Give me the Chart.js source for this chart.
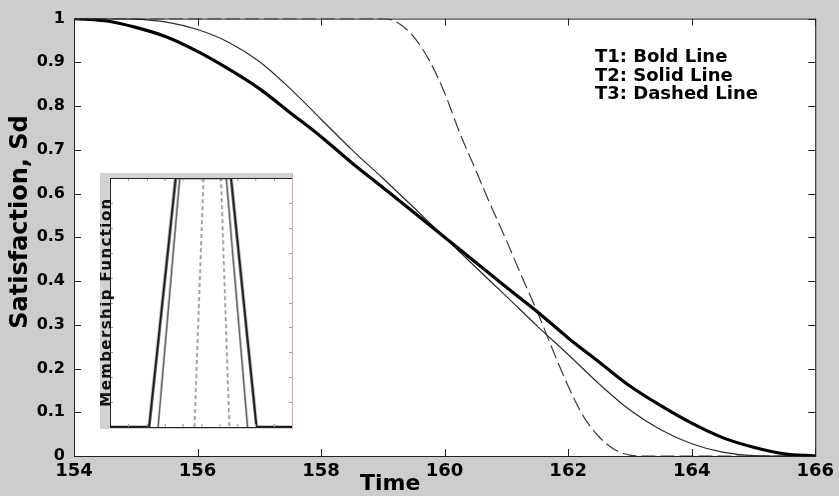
<!DOCTYPE html>
<html lang="en">
<head>
  <meta charset="UTF-8" />
  <title>Satisfaction vs Time</title>
  <script src="https://cdn.jsdelivr.net/npm/chart.js"></script>
  <style>
    body { margin: 0; background: #cdcdcd; }
    .wrap { position: relative; width: 839px; height: 496px; }
    #mainChart { position: absolute; left: 0; top: 0; }
    #insetChart { position: absolute; left: 100px; top: 173px; background: #d2d2d2; border-right: 1px solid #e0a4a4; }
  </style>
</head>
<body>
  <div class="wrap">
    <canvas id="mainChart" width="839" height="496"></canvas>
    <canvas id="insetChart" width="193" height="256"></canvas>
  </div>

  <script>
    // main chart data
    const timeT12 = [154, 154.5, 155, 155.5, 156, 156.5, 157, 157.5, 158, 158.5, 159, 159.5, 160,
                     160.5, 161, 161.5, 162, 162.5, 163, 163.5, 164, 164.5, 165, 165.5, 166];
    const satT1 = [1, 0.995, 0.98, 0.958, 0.925, 0.885, 0.84, 0.785, 0.73, 0.67, 0.614, 0.557, 0.5,
                   0.443, 0.386, 0.33, 0.27, 0.215, 0.16, 0.115, 0.075, 0.042, 0.02, 0.005, 0];
    const satT2 = [1, 1, 0.999, 0.992, 0.975, 0.946, 0.902, 0.84, 0.77, 0.70, 0.635, 0.568, 0.5,
                   0.432, 0.365, 0.297, 0.232, 0.165, 0.105, 0.06, 0.028, 0.009, 0.001, 0, 0];
    const timeT3 = [154, 156, 158, 159, 159.25, 159.5, 159.75, 160, 160.25, 160.5, 160.75, 161, 161.25,
                    161.5, 161.75, 162, 162.25, 162.5, 162.75, 163, 163.25, 164, 166];
    const satT3 = [1, 1, 1, 1, 0.99, 0.958, 0.905, 0.83, 0.737, 0.655, 0.572, 0.493, 0.41,
                   0.33, 0.243, 0.16, 0.09, 0.044, 0.015, 0.002, 0, 0, 0];
    const xTicks = [154, 156, 158, 160, 162, 164, 166];
    const legendLines = ["T1: Bold Line", "T2: Solid Line", "T3: Dashed Line"];

    // inset (membership functions)
    const mfBoldX = [0, 2.15, 3.61, 6.65, 8.05, 10];
    const mfBoldY = [0, 0, 1, 1, 0, 0];
    const mfSolidX = [2.64, 3.83, 6.39, 7.56];
    const mfSolidY = [0, 1, 1, 0];
    const mfDashX = [4.64, 5.14, 6.10, 6.56];
    const mfDashY = [0, 1, 1, 0];

    const FONT = "'DejaVu Sans', sans-serif";
    const pts = (xs, ys) => xs.map((x, i) => ({ x: x, y: ys[i] }));

    // white plot area + frame + inward ticks on all four sides
    function framePlugin(tickLen, tickColor, xStep, yStep) {
      return {
        id: 'frame',
        beforeDatasetsDraw(chart) {
          const a = chart.chartArea, ctx = chart.ctx;
          ctx.save();
          ctx.fillStyle = '#ffffff';
          ctx.fillRect(a.left, a.top, a.right - a.left, a.bottom - a.top);
          ctx.restore();
        },
        afterDraw(chart) {
          const a = chart.chartArea, ctx = chart.ctx;
          const xs = chart.scales.x, ys = chart.scales.y;
          ctx.save();
          ctx.strokeStyle = tickColor;
          ctx.lineWidth = 1;
          ctx.beginPath();
          for (let v = xs.min; v <= xs.max + 1e-9; v += xStep) {
            const px = Math.round(xs.getPixelForValue(v)) + 0.5;
            ctx.moveTo(px, a.bottom); ctx.lineTo(px, a.bottom - tickLen);
            ctx.moveTo(px, a.top); ctx.lineTo(px, a.top + tickLen);
          }
          for (let v = ys.min; v <= ys.max + 1e-9; v += yStep) {
            const py = Math.round(ys.getPixelForValue(v)) + 0.5;
            ctx.moveTo(a.left, py); ctx.lineTo(a.left + tickLen, py);
            ctx.moveTo(a.right, py); ctx.lineTo(a.right - tickLen, py);
          }
          ctx.stroke();
          ctx.strokeStyle = '#222';
          ctx.strokeRect(a.left + 0.5, a.top + 0.5, a.right - a.left, a.bottom - a.top);
          ctx.restore();
        }
      };
    }

    const textPlugin = {
      id: 'texts',
      afterDraw(chart) {
        const ctx = chart.ctx;
        ctx.save();
        ctx.fillStyle = '#000';
        ctx.font = `bold 18px ${FONT}`;
        legendLines.forEach((t, i) => ctx.fillText(t, 595, 62 + i * 18.5));
        ctx.font = `bold 22px ${FONT}`;
        ctx.fillText('Time', 360, 490);
        ctx.font = `bold 24px ${FONT}`;
        ctx.translate(27, 222);
        ctx.rotate(-Math.PI / 2);
        ctx.textAlign = 'center';
        ctx.fillText('Satisfaction, Sd', 0, 0);
        ctx.restore();
      }
    };

    new Chart(document.getElementById('mainChart'), {
      type: 'line',
      data: {
        datasets: [
          { label: 'T1', data: pts(timeT12, satT1), borderColor: '#000', borderWidth: 3.2 },
          { label: 'T2', data: pts(timeT12, satT2), borderColor: '#2a2a2a', borderWidth: 1.2 },
          { label: 'T3', data: pts(timeT3, satT3), borderColor: '#3a3a3a', borderWidth: 1.2, borderDash: [14, 5] }
        ]
      },
      options: {
        responsive: false,
        animation: false,
        events: [],
        elements: { point: { radius: 0 }, line: { cubicInterpolationMode: 'monotone', fill: false } },
        layout: { padding: { left: 0, top: 18, right: 17, bottom: 0 } },
        plugins: { legend: { display: false }, tooltip: { enabled: false } },
        scales: {
          x: {
            type: 'linear', min: 154, max: 166,
            afterFit: s => { s.height = 40; },
            afterBuildTicks: s => { s.ticks = xTicks.map(v => ({ value: v })); },
            grid: { display: false, drawTicks: false },
            border: { display: false },
            ticks: { color: '#000', padding: 5, maxRotation: 0, font: { family: FONT, size: 18, weight: 'bold' } }
          },
          y: {
            min: 0, max: 1,
            afterFit: s => { s.width = 74; },
            grid: { display: false, drawTicks: false },
            border: { display: false },
            ticks: {
              stepSize: 0.1, color: '#000', padding: 9,
              font: { family: FONT, size: 16, weight: 'bold' },
              callback: v => String(Math.round(v * 10) / 10)
            }
          }
        }
      },
      plugins: [framePlugin(7, '#222', 2, 0.1), textPlugin]
    });

    const insetLabel = {
      id: 'insetLabel',
      afterDraw(chart) {
        const ctx = chart.ctx;
        ctx.save();
        ctx.fillStyle = '#111';
        ctx.font = `bold 15px ${FONT}`;
        ctx.letterSpacing = '1.4px';
        ctx.translate(11, 129);
        ctx.rotate(-Math.PI / 2);
        ctx.textAlign = 'center';
        ctx.fillText('Membership Function', 0, 0);
        ctx.restore();
      }
    };

    new Chart(document.getElementById('insetChart'), {
      type: 'line',
      data: {
        datasets: [
          { data: pts(mfDashX, mfDashY), borderColor: '#666', borderWidth: 1.2, borderDash: [4, 3] },
          { data: pts(mfSolidX, mfSolidY), borderColor: '#444', borderWidth: 1.5 },
          { data: pts(mfBoldX, mfBoldY), borderColor: '#1a1a1a', borderWidth: 2.5 }
        ]
      },
      options: {
        responsive: false,
        animation: false,
        events: [],
        elements: { point: { radius: 0 }, line: { tension: 0, fill: false } },
        layout: { padding: { left: 0, top: 5, right: 0, bottom: 2 } },
        plugins: { legend: { display: false }, tooltip: { enabled: false } },
        scales: {
          x: {
            type: 'linear', min: 0, max: 10,
            afterFit: s => { s.height = 0; },
            grid: { display: false, drawTicks: false },
            border: { display: false },
            ticks: { display: false }
          },
          y: {
            min: 0, max: 1,
            afterFit: s => { s.width = 10; },
            grid: { display: false, drawTicks: false },
            border: { display: false },
            ticks: { display: false }
          }
        }
      },
      plugins: [framePlugin(3, '#999', 1, 0.1), insetLabel]
    });
  </script>
</body>
</html>
